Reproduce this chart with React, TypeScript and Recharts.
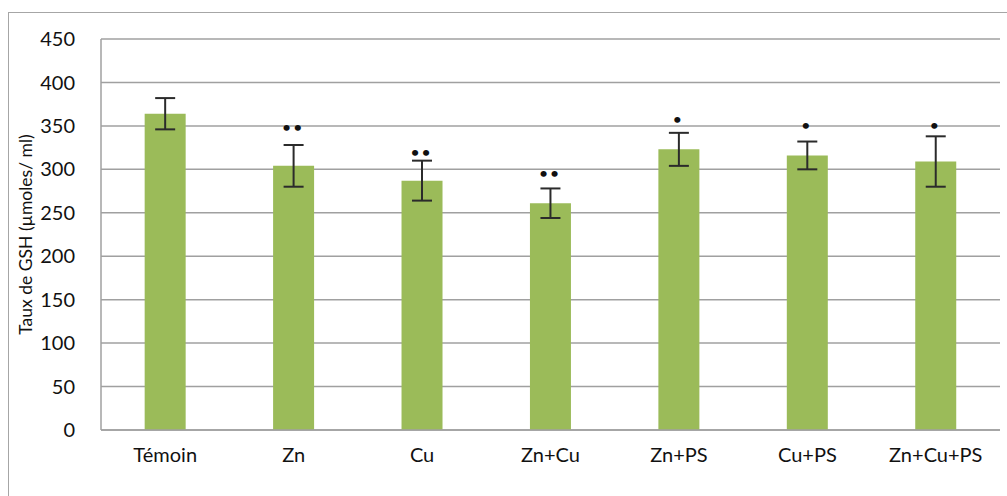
import React from 'react';
import {
  ComposedChart, Bar, Line, XAxis, YAxis, CartesianGrid, ErrorBar,
} from 'recharts';

const groups = ['Témoin', 'Zn', 'Cu', 'Zn+Cu', 'Zn+PS', 'Cu+PS', 'Zn+Cu+PS'];
const gshMeans = [364, 304, 287, 261, 323, 316, 309];
const gshErrors = [18, 24, 23, 17, 19, 16, 29];
const starMarks = ['', '••', '••', '••', '•', '•', '•'];
const starLevels = [null, 348, 319, 295, 357, 350, 350];
const yTicks = [0, 50, 100, 150, 200, 250, 300, 350, 400, 450];

const data = groups.map((g, i) => ({
  name: g,
  value: gshMeans[i],
  err: gshErrors[i],
  star: starLevels[i],
  mark: starMarks[i],
}));

const FONT = 'Lato, "Open Sans", sans-serif';

function StarDot(props: any) {
  const { cx, cy, payload } = props;
  if (payload.star == null) return null;
  return (
    <text x={cx} y={cy} dy={4} textAnchor="middle" fontSize={14} fontWeight={700}
      fill="#111" fontFamily={FONT} letterSpacing={3}>
      {payload.mark}
    </text>
  );
}

export default function App() {
  return (
    <div style={{ position: 'fixed', left: 0, top: 0, width: 1007, height: 496, background: '#fff', overflow: 'hidden' }}>
      <div style={{ position: 'absolute', left: 8, top: 12, width: 1020, height: 520, border: '1px solid #a6a6a6' }} />
      <div style={{ position: 'absolute', left: 0, top: 0 }}>
        <ComposedChart width={1007} height={496} data={data}
          margin={{ top: 39, right: 7, bottom: 20, left: 0 }} barCategoryGap="34%">
          <CartesianGrid vertical={false} stroke="#a0a0a0" strokeWidth={1.5} />
          <XAxis dataKey="name" height={46} tickLine={false} stroke="#a0a0a0" strokeWidth={1.5}
            tick={{ fill: '#111', fontSize: 20, fontFamily: FONT }} tickMargin={12} />
          <YAxis domain={[0, 450]} ticks={yTicks} width={101} tickLine={false} stroke="#a0a0a0" strokeWidth={1.5}
            tick={{ fill: '#111', fontSize: 20, fontFamily: FONT }} tickMargin={20}
            label={{ value: 'Taux de GSH  (µmoles/ ml)', angle: -90, position: 'insideLeft', offset: 26,
              style: { textAnchor: 'middle', fontSize: 17.5, fontFamily: FONT, fill: '#111' } }} />
          <Bar dataKey="value" fill="#9bbb59" isAnimationActive={false}>
            <ErrorBar dataKey="err" width={10} stroke="#2b2b2b" strokeWidth={2} />
          </Bar>
          <Line dataKey="star" stroke="none" dot={<StarDot />} activeDot={false}
            isAnimationActive={false} legendType="none" />
        </ComposedChart>
      </div>
    </div>
  );
}
